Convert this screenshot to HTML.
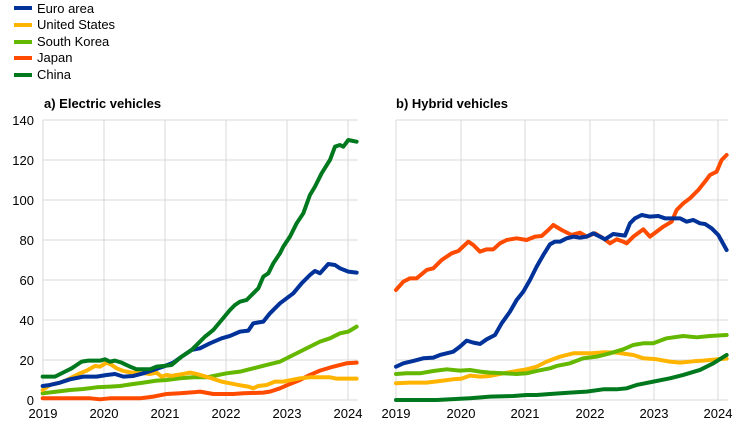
<!DOCTYPE html>
<html><head><meta charset="utf-8"><style>
body{margin:0;background:#fff;width:742px;height:426px;overflow:hidden;font-family:"Liberation Sans",Arial,sans-serif}
svg text{font-family:"Liberation Sans",Arial,sans-serif;fill:#000}
</style></head><body>
<svg width="742" height="426" xmlns="http://www.w3.org/2000/svg">
<g font-size="13">
<rect x="14" y="6" width="18" height="4" fill="#003299"/><text x="37" y="13">Euro area</text>
<rect x="14" y="23" width="18" height="4" fill="#ffb400"/><text x="37" y="29">United States</text>
<rect x="14" y="40" width="18" height="4" fill="#65b800"/><text x="37" y="46">South Korea</text>
<rect x="14" y="56" width="18" height="4" fill="#ff4b00"/><text x="37" y="62">Japan</text>
<rect x="14" y="73" width="18" height="4" fill="#00781e"/><text x="37" y="79">China</text>
</g>
<text x="44" y="108" font-size="13" font-weight="bold">a) Electric vehicles</text>
<text x="396" y="108" font-size="13" font-weight="bold">b) Hybrid vehicles</text>
<g stroke="#d9d9d9" stroke-width="1" id="grid"></g>
<g font-size="13" text-anchor="end" id="ylab"></g>
<g font-size="13" text-anchor="middle" id="xlab"></g>
<g transform="translate(0,90) scale(0.3333)" fill="none" stroke-linejoin="round" stroke-linecap="round" id="pa"></g>
<g transform="translate(370,90) scale(0.3333)" fill="none" stroke-linejoin="round" stroke-linecap="round" id="pb"></g>
</svg>
<script>
var NS="http://www.w3.org/2000/svg";
function el(p,t,a,txt){var e=document.createElementNS(NS,t);for(var k in a)e.setAttribute(k,a[k]);if(txt!=null)e.textContent=txt;document.getElementById(p).appendChild(e);}
for(var k=0;k<=7;k++){var y=120+40*k;
 el("grid","line",{x1:43,x2:358,y1:y,y2:y});el("grid","line",{x1:396,x2:728,y1:y,y2:y});
 el("ylab","text",{x:34,y:y+5},String(140-20*k));}
var xa=[43,104,165,226,287,348],xb=[396,461,525,590,654,718];
for(var i=0;i<6;i++){el("grid","line",{x1:xa[i],x2:xa[i],y1:120,y2:400});el("grid","line",{x1:xb[i],x2:xb[i],y1:120,y2:400});
 el("xlab","text",{x:xa[i],y:418},String(2019+i));el("xlab","text",{x:xb[i],y:418},String(2019+i));}
function line(g,c,pts){el(g,"polyline",{points:pts,stroke:c,"stroke-width":12});}
line("pa","#65b800","128,910 170,905 210,900 250,897 290,892 330,890 360,888 400,882 430,878 470,872 500,870 540,865 580,862 620,862 650,856 680,850 720,845 760,835 800,825 840,815 870,800 900,785 930,770 960,755 990,745 1020,730 1045,725 1070,710");
line("pa","#ff4b00","128,925 200,925 270,925 300,928 330,925 370,925 420,925 460,920 500,912 540,910 580,907 600,905 640,912 700,912 730,910 790,908 810,905 840,895 870,882 900,870 930,855 960,842 1000,830 1040,820 1070,818");
line("pa","#ffb400","128,900 150,885 180,878 205,868 220,860 240,850 260,842 285,828 300,830 320,818 335,825 350,835 370,843 395,848 420,848 450,852 470,848 485,860 500,855 515,858 530,855 550,852 570,848 590,852 610,858 635,865 665,875 690,880 715,885 745,890 760,895 775,888 800,885 825,875 850,875 875,870 900,865 930,862 960,862 990,862 1010,866 1070,866");
line("pa","#003299","128,888 150,885 180,878 210,868 250,860 290,860 320,855 345,852 370,860 400,858 430,850 460,840 490,830 520,818 545,800 575,780 600,775 630,760 665,745 690,738 720,725 745,722 760,700 790,695 810,670 840,640 860,625 880,610 905,580 930,555 945,543 960,550 985,522 1005,525 1020,535 1045,545 1070,548");
line("pa","#00781e","128,860 165,860 195,845 215,835 245,815 265,812 300,812 315,808 330,815 345,812 365,818 390,830 410,838 450,838 470,830 490,828 515,825 545,800 575,780 595,760 615,740 640,720 665,690 690,660 705,645 720,635 740,630 760,610 775,595 790,560 805,550 820,520 840,490 850,470 870,440 890,400 910,370 930,315 945,290 965,250 990,210 1005,170 1020,165 1030,170 1045,150 1070,155");
line("pb","#ffb400","78,880 120,878 170,878 210,873 250,868 275,866 300,857 330,860 360,858 400,850 440,843 470,838 500,830 530,815 570,800 610,790 660,790 700,787 740,788 790,795 820,805 860,808 900,815 930,818 970,814 1000,812 1040,808 1070,806");
line("pb","#65b800","78,852 110,850 150,850 190,843 230,838 270,842 300,840 330,845 360,848 400,850 440,852 470,850 500,843 540,835 560,828 600,820 640,805 680,800 720,790 760,778 790,765 820,760 850,760 890,745 940,738 980,742 1020,738 1070,735");
line("pb","#00781e","78,930 200,930 300,925 360,920 430,918 470,915 500,915 540,912 600,908 650,905 700,898 740,898 770,895 800,885 850,875 900,865 940,855 990,840 1030,820 1070,795");
line("pb","#ff4b00","78,600 100,575 120,565 140,565 170,540 190,535 215,510 245,490 265,483 295,455 310,465 330,485 350,478 370,478 390,460 410,450 440,445 470,450 495,440 515,438 535,420 550,405 575,420 605,435 630,428 650,440 675,430 700,445 720,460 740,448 760,455 770,460 790,440 820,418 840,440 860,425 880,410 905,395 920,360 940,340 960,325 985,300 1005,275 1020,255 1040,245 1055,210 1070,195");
line("pb","#003299","78,830 100,820 130,813 160,805 190,803 210,795 250,785 270,770 290,752 310,758 330,762 350,748 375,735 395,700 420,665 440,630 460,605 480,570 500,530 520,495 540,463 555,455 570,455 590,445 610,440 630,443 650,440 670,430 690,440 705,448 730,432 765,437 780,400 795,385 815,375 840,380 865,378 885,385 900,385 930,385 950,395 970,390 990,400 1005,402 1025,415 1045,435 1070,480");
</script>
</body></html>
